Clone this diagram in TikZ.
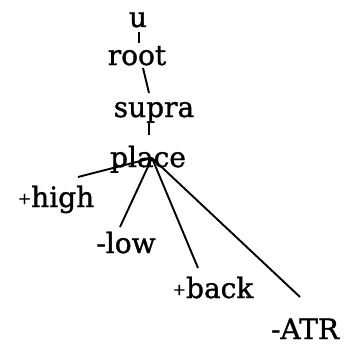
\documentclass[tikz,border=0pt]{standalone}
\usepackage{fontspec}
\newfontfamily\lblfont{DejaVu Serif}[FakeBold=1.2]
\newcommand{\smplus}{\raisebox{3pt}{\fontsize{16}{16}\selectfont+}}
\begin{document}
\begin{tikzpicture}[x=1pt,y=-1pt,
  lbl/.style={anchor=base,inner sep=0pt,font=\lblfont\fontsize{28}{30}\selectfont},
  edge/.style={line width=1.9pt}]
\useasboundingbox (0,0) rectangle (356,348);
\node[lbl] (u) at (138,27) {u};
\node[lbl] (root) at (137,65) {root};
\node[lbl] (supra) at (154,117) {supra};
\node[lbl] (place) at (148,167) {place};
\node[lbl] (high) at (56,207) {\smplus high};
\node[lbl] (low) at (126,253) {-low};
\node[lbl] (back) at (213,298) {\smplus back};
\node[lbl] (atr) at (305,339) {-ATR};
\coordinate (hub) at ([xshift=4pt,yshift=9pt]place.base);
\draw[edge] ([xshift=1pt,yshift=-5pt]u.base) -- ([xshift=2pt,yshift=22pt]root.base);
\draw[edge] ([xshift=6pt,yshift=-3pt]root.base) -- ([xshift=-5pt,yshift=24pt]supra.base);
\draw[edge] ([xshift=-5pt,yshift=-6pt]supra.base) -- ([xshift=1pt,yshift=32pt]place.base);
\draw[edge] (hub) -- ([xshift=22pt,yshift=30pt]high.base);
\draw[edge] (hub) -- ([xshift=-6pt,yshift=26pt]low.base);
\draw[edge] (hub) -- ([xshift=-15pt,yshift=30pt]back.base);
\draw[edge] (hub) -- ([xshift=-5pt,yshift=42pt]atr.base);
\end{tikzpicture}
\end{document}
